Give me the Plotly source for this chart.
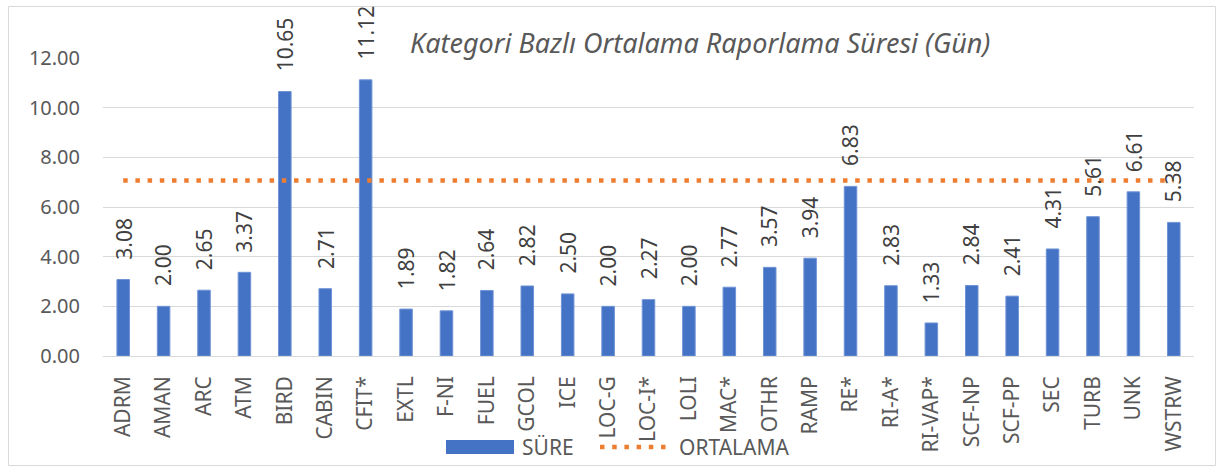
import plotly.graph_objects as go

categories = ["ADRM", "AMAN", "ARC", "ATM", "BIRD", "CABIN", "CFIT*", "EXTL", "F-NI", "FUEL",
              "GCOL", "ICE", "LOC-G", "LOC-I*", "LOLI", "MAC*", "OTHR", "RAMP", "RE*", "RI-A*",
              "RI-VAP*", "SCF-NP", "SCF-PP", "SEC", "TURB", "UNK", "WSTRW"]
sure = [3.08, 2.00, 2.65, 3.37, 10.65, 2.71, 11.12, 1.89, 1.82, 2.64,
        2.82, 2.50, 2.00, 2.27, 2.00, 2.77, 3.57, 3.94, 6.83, 2.83,
        1.33, 2.84, 2.41, 4.31, 5.61, 6.61, 5.38]
ortalama_value = 7.07
ortalama = [ortalama_value] * len(categories)
y_ticks = [0, 2, 4, 6, 8, 10, 12]
y_tick_labels = ["0.00", "2.00", "4.00", "6.00", "8.00", "10.00", "12.00"]

BLUE = "#4472C4"
ORANGE = "#ED7D31"
TXT = "#595959"
FONT = "Noto Sans"

fig = go.Figure()
fig.add_trace(go.Bar(x=categories, y=sure,
                     marker=dict(color=BLUE, line=dict(width=1, color="#6f93d6")),
                     showlegend=False, name="SÜRE"))
fig.add_trace(go.Scatter(x=categories, y=ortalama, mode="lines", name="ORTALAMA",
                         showlegend=False,
                         line=dict(color=ORANGE, width=4.5, dash="4.5px,7.7px")))

for c, v in zip(categories, sure):
    fig.add_annotation(x=c, y=v, text=f"{v:.2f}", textangle=-90, showarrow=False,
                       yanchor="bottom", yshift=19, borderpad=0,
                       font=dict(family=FONT, size=21, color="#404040"))

L, R, T, B = 103, 1194, 58, 356
W, H = 1219, 471
pw, ph = R - L, B - T

def px_x(x):
    return (x - L) / pw

def px_y(y):
    return (B - y) / ph

# chart border
fig.add_shape(type="rect", xref="paper", yref="paper",
              x0=px_x(8.5), x1=px_x(1215.5), y0=px_y(465.5), y1=px_y(6.5),
              line=dict(color="#d9d9d9", width=1), fillcolor="rgba(0,0,0,0)", layer="below")

# legend (drawn to match the wide Excel swatches)
leg_y = px_y(447)
fig.add_shape(type="rect", xref="paper", yref="paper",
              x0=px_x(446), x1=px_x(514), y0=px_y(454), y1=px_y(440),
              line=dict(width=0), fillcolor=BLUE)
fig.add_annotation(xref="paper", yref="paper", x=px_x(520), y=leg_y, text="SÜRE",
                   showarrow=False, xanchor="left", yanchor="middle",
                   font=dict(family=FONT, size=21, color=TXT))
fig.add_shape(type="line", xref="paper", yref="paper",
              x0=px_x(600), x1=px_x(670), y0=leg_y, y1=leg_y,
              line=dict(color=ORANGE, width=4.5, dash="4.5px,7.7px"))
fig.add_annotation(xref="paper", yref="paper", x=px_x(677), y=leg_y, text="ORTALAMA",
                   showarrow=False, xanchor="left", yanchor="middle",
                   font=dict(family=FONT, size=21, color=TXT))

# title
fig.add_annotation(xref="paper", yref="paper", x=px_x(700), y=px_y(42),
                   text="<i>Kategori Bazlı Ortalama Raporlama Süresi (Gün)</i>",
                   showarrow=False, xanchor="center", yanchor="middle",
                   font=dict(family=FONT, size=27, color=TXT))

fig.update_layout(
    width=W, height=H,
    margin=dict(l=L, r=W - R, t=T, b=H - B, pad=0, autoexpand=False),
    paper_bgcolor="white", plot_bgcolor="white",
    bargap=0.69,
    showlegend=False,
    font=dict(family=FONT, color=TXT),
    xaxis=dict(tickangle=-90, tickfont=dict(family=FONT, size=21, color=TXT),
               showgrid=False, showline=False, ticks="", ticklabelstandoff=15,
               automargin=False),
    yaxis=dict(range=[0, 12], tickvals=y_ticks, ticktext=y_tick_labels,
               tickfont=dict(family=FONT, size=20, color=TXT),
               showgrid=True, gridcolor="#d9d9d9", gridwidth=1, zeroline=True,
               zerolinecolor="#d9d9d9", zerolinewidth=1, showline=False, ticks="",
               ticklabelstandoff=22, automargin=False),
)

fig.write_html("out.html", config={"displayModeBar": False},
               post_script="document.body.style.margin='0';document.body.style.overflow='hidden';")
